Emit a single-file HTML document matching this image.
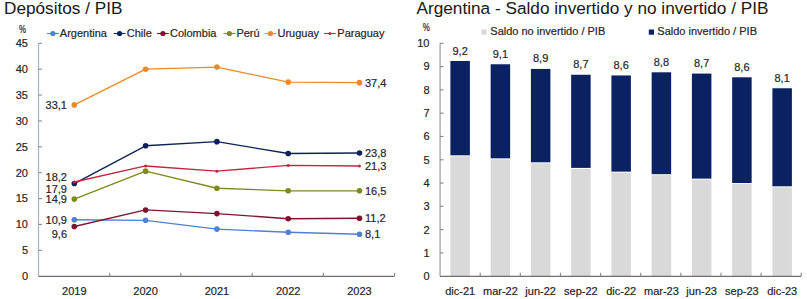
<!DOCTYPE html>
<html><head><meta charset="utf-8"><style>
html,body{margin:0;padding:0;background:#fff;width:807px;height:299px;overflow:hidden}
svg{display:block;font-family:"Liberation Sans", sans-serif}
</style></head><body>
<svg width="807" height="299" viewBox="0 0 807 299">
<rect width="807" height="299" fill="#fff"/>
<text x="4.00" y="13.70" font-size="17.2" text-anchor="start" fill="#1a1a1a" stroke="#1a1a1a" stroke-width="0.05" textLength="118.5" lengthAdjust="spacingAndGlyphs">Depósitos / PIB</text>
<line x1="38.50" y1="43.30" x2="38.50" y2="276.20" stroke="#aab0c2" stroke-width="1.2"/>
<text x="28.00" y="280.10" font-size="11" text-anchor="end" fill="#262626" stroke="#262626" stroke-width="0.2" >0</text>
<line x1="38.50" y1="250.32" x2="41.90" y2="250.32" stroke="#858a99" stroke-width="1.1"/>
<text x="28.00" y="254.22" font-size="11" text-anchor="end" fill="#262626" stroke="#262626" stroke-width="0.2" >5</text>
<line x1="38.50" y1="224.44" x2="41.90" y2="224.44" stroke="#858a99" stroke-width="1.1"/>
<text x="28.00" y="228.34" font-size="11" text-anchor="end" fill="#262626" stroke="#262626" stroke-width="0.2" >10</text>
<line x1="38.50" y1="198.57" x2="41.90" y2="198.57" stroke="#858a99" stroke-width="1.1"/>
<text x="28.00" y="202.47" font-size="11" text-anchor="end" fill="#262626" stroke="#262626" stroke-width="0.2" >15</text>
<line x1="38.50" y1="172.69" x2="41.90" y2="172.69" stroke="#858a99" stroke-width="1.1"/>
<text x="28.00" y="176.59" font-size="11" text-anchor="end" fill="#262626" stroke="#262626" stroke-width="0.2" >20</text>
<line x1="38.50" y1="146.81" x2="41.90" y2="146.81" stroke="#858a99" stroke-width="1.1"/>
<text x="28.00" y="150.71" font-size="11" text-anchor="end" fill="#262626" stroke="#262626" stroke-width="0.2" >25</text>
<line x1="38.50" y1="120.93" x2="41.90" y2="120.93" stroke="#858a99" stroke-width="1.1"/>
<text x="28.00" y="124.83" font-size="11" text-anchor="end" fill="#262626" stroke="#262626" stroke-width="0.2" >30</text>
<line x1="38.50" y1="95.06" x2="41.90" y2="95.06" stroke="#858a99" stroke-width="1.1"/>
<text x="28.00" y="98.96" font-size="11" text-anchor="end" fill="#262626" stroke="#262626" stroke-width="0.2" >35</text>
<line x1="38.50" y1="69.18" x2="41.90" y2="69.18" stroke="#858a99" stroke-width="1.1"/>
<text x="28.00" y="73.08" font-size="11" text-anchor="end" fill="#262626" stroke="#262626" stroke-width="0.2" >40</text>
<line x1="38.50" y1="43.30" x2="41.90" y2="43.30" stroke="#858a99" stroke-width="1.1"/>
<text x="28.00" y="47.20" font-size="11" text-anchor="end" fill="#262626" stroke="#262626" stroke-width="0.2" >45</text>
<text x="19.00" y="33.30" font-size="10" text-anchor="start" fill="#262626" stroke="#262626" stroke-width="0.2" textLength="7" lengthAdjust="spacingAndGlyphs">%</text>
<line x1="38.50" y1="276.40" x2="394.60" y2="276.40" stroke="#6e6e6e" stroke-width="1.3"/>
<line x1="109.72" y1="272.80" x2="109.72" y2="276.00" stroke="#8c8c8c" stroke-width="1.2"/>
<line x1="180.94" y1="272.80" x2="180.94" y2="276.00" stroke="#8c8c8c" stroke-width="1.2"/>
<line x1="252.16" y1="272.80" x2="252.16" y2="276.00" stroke="#8c8c8c" stroke-width="1.2"/>
<line x1="323.38" y1="272.80" x2="323.38" y2="276.00" stroke="#8c8c8c" stroke-width="1.2"/>
<line x1="394.60" y1="272.80" x2="394.60" y2="276.00" stroke="#8c8c8c" stroke-width="1.2"/>
<text x="74.30" y="295.00" font-size="11" text-anchor="middle" fill="#262626" stroke="#262626" stroke-width="0.2" >2019</text>
<text x="145.60" y="295.00" font-size="11" text-anchor="middle" fill="#262626" stroke="#262626" stroke-width="0.2" >2020</text>
<text x="216.90" y="295.00" font-size="11" text-anchor="middle" fill="#262626" stroke="#262626" stroke-width="0.2" >2021</text>
<text x="288.20" y="295.00" font-size="11" text-anchor="middle" fill="#262626" stroke="#262626" stroke-width="0.2" >2022</text>
<text x="359.50" y="295.00" font-size="11" text-anchor="middle" fill="#262626" stroke="#262626" stroke-width="0.2" >2023</text>
<polyline points="74.30,104.89 145.60,69.18 216.90,67.11 288.20,82.12 359.50,82.63" fill="none" stroke="#ec8a26" stroke-width="1.35" stroke-linejoin="round"/>
<circle cx="74.30" cy="104.89" r="2.8" fill="#ec8a26"/>
<circle cx="145.60" cy="69.18" r="2.8" fill="#ec8a26"/>
<circle cx="216.90" cy="67.11" r="2.8" fill="#ec8a26"/>
<circle cx="288.20" cy="82.12" r="2.8" fill="#ec8a26"/>
<circle cx="359.50" cy="82.63" r="2.8" fill="#ec8a26"/>
<polyline points="74.30,199.08 145.60,171.14 216.90,188.22 288.20,190.80 359.50,190.80" fill="none" stroke="#7d8a1c" stroke-width="1.35" stroke-linejoin="round"/>
<circle cx="74.30" cy="199.08" r="2.8" fill="#7d8a1c"/>
<circle cx="145.60" cy="171.14" r="2.8" fill="#7d8a1c"/>
<circle cx="216.90" cy="188.22" r="2.8" fill="#7d8a1c"/>
<circle cx="288.20" cy="190.80" r="2.8" fill="#7d8a1c"/>
<circle cx="359.50" cy="190.80" r="2.8" fill="#7d8a1c"/>
<polyline points="74.30,219.79 145.60,220.30 216.90,229.10 288.20,232.21 359.50,234.28" fill="none" stroke="#4f7fd6" stroke-width="1.35" stroke-linejoin="round"/>
<circle cx="74.30" cy="219.79" r="2.8" fill="#4f7fd6"/>
<circle cx="145.60" cy="220.30" r="2.8" fill="#4f7fd6"/>
<circle cx="216.90" cy="229.10" r="2.8" fill="#4f7fd6"/>
<circle cx="288.20" cy="232.21" r="2.8" fill="#4f7fd6"/>
<circle cx="359.50" cy="234.28" r="2.8" fill="#4f7fd6"/>
<polyline points="74.30,226.51 145.60,209.95 216.90,213.58 288.20,218.75 359.50,218.23" fill="none" stroke="#7f1430" stroke-width="1.35" stroke-linejoin="round"/>
<circle cx="74.30" cy="226.51" r="2.8" fill="#7f1430"/>
<circle cx="145.60" cy="209.95" r="2.8" fill="#7f1430"/>
<circle cx="216.90" cy="213.58" r="2.8" fill="#7f1430"/>
<circle cx="288.20" cy="218.75" r="2.8" fill="#7f1430"/>
<circle cx="359.50" cy="218.23" r="2.8" fill="#7f1430"/>
<polyline points="74.30,183.56 145.60,145.78 216.90,141.64 288.20,153.54 359.50,153.02" fill="none" stroke="#0e2258" stroke-width="1.35" stroke-linejoin="round"/>
<circle cx="74.30" cy="183.56" r="2.8" fill="#0e2258"/>
<circle cx="145.60" cy="145.78" r="2.8" fill="#0e2258"/>
<circle cx="216.90" cy="141.64" r="2.8" fill="#0e2258"/>
<circle cx="288.20" cy="153.54" r="2.8" fill="#0e2258"/>
<circle cx="359.50" cy="153.02" r="2.8" fill="#0e2258"/>
<polyline points="74.30,182.00 145.60,165.96 216.90,171.14 288.20,165.44 359.50,165.96" fill="none" stroke="#c2263e" stroke-width="1.35" stroke-linejoin="round"/>
<circle cx="74.30" cy="182.00" r="1.5" fill="#c2263e"/>
<circle cx="145.60" cy="165.96" r="1.5" fill="#c2263e"/>
<circle cx="216.90" cy="171.14" r="1.5" fill="#c2263e"/>
<circle cx="288.20" cy="165.44" r="1.5" fill="#c2263e"/>
<circle cx="359.50" cy="165.96" r="1.5" fill="#c2263e"/>
<line x1="47.00" y1="33.50" x2="58.80" y2="33.50" stroke="#4f7fd6" stroke-width="1.1"/>
<circle cx="52.90" cy="33.50" r="2.6" fill="#4f7fd6"/>
<text x="59.80" y="37.00" font-size="11" text-anchor="start" fill="#262626" stroke="#262626" stroke-width="0.2" >Argentina</text>
<line x1="113.70" y1="33.50" x2="125.50" y2="33.50" stroke="#0e2258" stroke-width="1.1"/>
<circle cx="119.60" cy="33.50" r="2.6" fill="#0e2258"/>
<text x="126.80" y="37.00" font-size="11" text-anchor="start" fill="#262626" stroke="#262626" stroke-width="0.2" >Chile</text>
<line x1="157.00" y1="33.50" x2="168.80" y2="33.50" stroke="#7f1430" stroke-width="1.1"/>
<circle cx="162.90" cy="33.50" r="2.6" fill="#7f1430"/>
<text x="170.00" y="37.00" font-size="11" text-anchor="start" fill="#262626" stroke="#262626" stroke-width="0.2" >Colombia</text>
<line x1="223.50" y1="33.50" x2="235.30" y2="33.50" stroke="#7d8a1c" stroke-width="1.1"/>
<circle cx="229.40" cy="33.50" r="2.6" fill="#7d8a1c"/>
<text x="236.40" y="37.00" font-size="11" text-anchor="start" fill="#262626" stroke="#262626" stroke-width="0.2" >Perú</text>
<line x1="264.60" y1="33.50" x2="276.40" y2="33.50" stroke="#ec8a26" stroke-width="1.1"/>
<circle cx="270.50" cy="33.50" r="2.6" fill="#ec8a26"/>
<text x="277.50" y="37.00" font-size="11" text-anchor="start" fill="#262626" stroke="#262626" stroke-width="0.2" >Uruguay</text>
<line x1="324.00" y1="33.50" x2="335.80" y2="33.50" stroke="#c2263e" stroke-width="1.1"/>
<circle cx="329.90" cy="33.50" r="1.5" fill="#c2263e"/>
<text x="337.30" y="37.00" font-size="11" text-anchor="start" fill="#262626" stroke="#262626" stroke-width="0.2" >Paraguay</text>
<text x="67.00" y="108.80" font-size="11" text-anchor="end" fill="#262626" stroke="#262626" stroke-width="0.2" >33,1</text>
<text x="67.00" y="180.60" font-size="11" text-anchor="end" fill="#262626" stroke="#262626" stroke-width="0.2" >18,2</text>
<text x="67.00" y="193.20" font-size="11" text-anchor="end" fill="#262626" stroke="#262626" stroke-width="0.2" >17,9</text>
<text x="67.00" y="202.60" font-size="11" text-anchor="end" fill="#262626" stroke="#262626" stroke-width="0.2" >14,9</text>
<text x="67.00" y="224.40" font-size="11" text-anchor="end" fill="#262626" stroke="#262626" stroke-width="0.2" >10,9</text>
<text x="67.00" y="237.60" font-size="11" text-anchor="end" fill="#262626" stroke="#262626" stroke-width="0.2" >9,6</text>
<text x="365.00" y="86.53" font-size="11" text-anchor="start" fill="#262626" stroke="#262626" stroke-width="0.2" >37,4</text>
<text x="365.00" y="156.92" font-size="11" text-anchor="start" fill="#262626" stroke="#262626" stroke-width="0.2" >23,8</text>
<text x="365.00" y="169.86" font-size="11" text-anchor="start" fill="#262626" stroke="#262626" stroke-width="0.2" >21,3</text>
<text x="365.00" y="194.70" font-size="11" text-anchor="start" fill="#262626" stroke="#262626" stroke-width="0.2" >16,5</text>
<text x="365.00" y="222.13" font-size="11" text-anchor="start" fill="#262626" stroke="#262626" stroke-width="0.2" >11,2</text>
<text x="365.00" y="238.18" font-size="11" text-anchor="start" fill="#262626" stroke="#262626" stroke-width="0.2" >8,1</text>
<text x="416.50" y="13.70" font-size="17.2" text-anchor="start" fill="#1a1a1a" stroke="#1a1a1a" stroke-width="0.05" textLength="352" lengthAdjust="spacingAndGlyphs">Argentina - Saldo invertido y no invertido / PIB</text>
<line x1="440.10" y1="43.30" x2="440.10" y2="276.20" stroke="#a8a8a8" stroke-width="1.4"/>
<text x="429.50" y="280.10" font-size="11" text-anchor="end" fill="#262626" stroke="#262626" stroke-width="0.2" >0</text>
<line x1="440.10" y1="252.91" x2="443.50" y2="252.91" stroke="#858585" stroke-width="1.1"/>
<text x="429.50" y="256.81" font-size="11" text-anchor="end" fill="#262626" stroke="#262626" stroke-width="0.2" >1</text>
<line x1="440.10" y1="229.62" x2="443.50" y2="229.62" stroke="#858585" stroke-width="1.1"/>
<text x="429.50" y="233.52" font-size="11" text-anchor="end" fill="#262626" stroke="#262626" stroke-width="0.2" >2</text>
<line x1="440.10" y1="206.33" x2="443.50" y2="206.33" stroke="#858585" stroke-width="1.1"/>
<text x="429.50" y="210.23" font-size="11" text-anchor="end" fill="#262626" stroke="#262626" stroke-width="0.2" >3</text>
<line x1="440.10" y1="183.04" x2="443.50" y2="183.04" stroke="#858585" stroke-width="1.1"/>
<text x="429.50" y="186.94" font-size="11" text-anchor="end" fill="#262626" stroke="#262626" stroke-width="0.2" >4</text>
<line x1="440.10" y1="159.75" x2="443.50" y2="159.75" stroke="#858585" stroke-width="1.1"/>
<text x="429.50" y="163.65" font-size="11" text-anchor="end" fill="#262626" stroke="#262626" stroke-width="0.2" >5</text>
<line x1="440.10" y1="136.46" x2="443.50" y2="136.46" stroke="#858585" stroke-width="1.1"/>
<text x="429.50" y="140.36" font-size="11" text-anchor="end" fill="#262626" stroke="#262626" stroke-width="0.2" >6</text>
<line x1="440.10" y1="113.17" x2="443.50" y2="113.17" stroke="#858585" stroke-width="1.1"/>
<text x="429.50" y="117.07" font-size="11" text-anchor="end" fill="#262626" stroke="#262626" stroke-width="0.2" >7</text>
<line x1="440.10" y1="89.88" x2="443.50" y2="89.88" stroke="#858585" stroke-width="1.1"/>
<text x="429.50" y="93.78" font-size="11" text-anchor="end" fill="#262626" stroke="#262626" stroke-width="0.2" >8</text>
<line x1="440.10" y1="66.59" x2="443.50" y2="66.59" stroke="#858585" stroke-width="1.1"/>
<text x="429.50" y="70.49" font-size="11" text-anchor="end" fill="#262626" stroke="#262626" stroke-width="0.2" >9</text>
<line x1="440.10" y1="43.30" x2="443.50" y2="43.30" stroke="#858585" stroke-width="1.1"/>
<text x="429.50" y="47.20" font-size="11" text-anchor="end" fill="#262626" stroke="#262626" stroke-width="0.2" >10</text>
<text x="422.80" y="30.70" font-size="10" text-anchor="start" fill="#262626" stroke="#262626" stroke-width="0.2" textLength="7" lengthAdjust="spacingAndGlyphs">%</text>
<rect x="450.40" y="61.00" width="19.50" height="94.32" fill="#0b2262"/>
<rect x="450.40" y="156.32" width="19.50" height="119.88" fill="#d9d9d9"/>
<text x="460.15" y="54.50" font-size="11" text-anchor="middle" fill="#262626" stroke="#262626" stroke-width="0.2" >9,2</text>
<text x="460.15" y="294.80" font-size="11" text-anchor="middle" fill="#262626" stroke="#262626" stroke-width="0.2" >dic-21</text>
<rect x="490.65" y="64.26" width="19.50" height="94.09" fill="#0b2262"/>
<rect x="490.65" y="159.35" width="19.50" height="116.85" fill="#d9d9d9"/>
<text x="500.40" y="57.76" font-size="11" text-anchor="middle" fill="#262626" stroke="#262626" stroke-width="0.2" >9,1</text>
<text x="500.40" y="294.80" font-size="11" text-anchor="middle" fill="#262626" stroke="#262626" stroke-width="0.2" >mar-22</text>
<rect x="530.90" y="68.92" width="19.50" height="93.39" fill="#0b2262"/>
<rect x="530.90" y="163.31" width="19.50" height="112.89" fill="#d9d9d9"/>
<text x="540.65" y="62.42" font-size="11" text-anchor="middle" fill="#262626" stroke="#262626" stroke-width="0.2" >8,9</text>
<text x="540.65" y="294.80" font-size="11" text-anchor="middle" fill="#262626" stroke="#262626" stroke-width="0.2" >jun-22</text>
<rect x="571.15" y="74.74" width="19.50" height="93.16" fill="#0b2262"/>
<rect x="571.15" y="168.90" width="19.50" height="107.30" fill="#d9d9d9"/>
<text x="580.90" y="68.24" font-size="11" text-anchor="middle" fill="#262626" stroke="#262626" stroke-width="0.2" >8,7</text>
<text x="580.90" y="294.80" font-size="11" text-anchor="middle" fill="#262626" stroke="#262626" stroke-width="0.2" >sep-22</text>
<rect x="611.40" y="75.44" width="19.50" height="96.19" fill="#0b2262"/>
<rect x="611.40" y="172.63" width="19.50" height="103.57" fill="#d9d9d9"/>
<text x="621.15" y="68.94" font-size="11" text-anchor="middle" fill="#262626" stroke="#262626" stroke-width="0.2" >8,6</text>
<text x="621.15" y="294.80" font-size="11" text-anchor="middle" fill="#262626" stroke="#262626" stroke-width="0.2" >dic-22</text>
<rect x="651.65" y="72.30" width="19.50" height="101.89" fill="#0b2262"/>
<rect x="651.65" y="175.19" width="19.50" height="101.01" fill="#d9d9d9"/>
<text x="661.40" y="65.80" font-size="11" text-anchor="middle" fill="#262626" stroke="#262626" stroke-width="0.2" >8,8</text>
<text x="661.40" y="294.80" font-size="11" text-anchor="middle" fill="#262626" stroke="#262626" stroke-width="0.2" >mar-23</text>
<rect x="691.90" y="73.58" width="19.50" height="105.04" fill="#0b2262"/>
<rect x="691.90" y="179.61" width="19.50" height="96.59" fill="#d9d9d9"/>
<text x="701.65" y="67.08" font-size="11" text-anchor="middle" fill="#262626" stroke="#262626" stroke-width="0.2" >8,7</text>
<text x="701.65" y="294.80" font-size="11" text-anchor="middle" fill="#262626" stroke="#262626" stroke-width="0.2" >jun-23</text>
<rect x="732.15" y="77.30" width="19.50" height="105.74" fill="#0b2262"/>
<rect x="732.15" y="184.04" width="19.50" height="92.16" fill="#d9d9d9"/>
<text x="741.90" y="70.80" font-size="11" text-anchor="middle" fill="#262626" stroke="#262626" stroke-width="0.2" >8,6</text>
<text x="741.90" y="294.80" font-size="11" text-anchor="middle" fill="#262626" stroke="#262626" stroke-width="0.2" >sep-23</text>
<rect x="772.40" y="88.25" width="19.50" height="98.05" fill="#0b2262"/>
<rect x="772.40" y="187.30" width="19.50" height="88.90" fill="#d9d9d9"/>
<text x="782.15" y="81.75" font-size="11" text-anchor="middle" fill="#262626" stroke="#262626" stroke-width="0.2" >8,1</text>
<text x="782.15" y="294.80" font-size="11" text-anchor="middle" fill="#262626" stroke="#262626" stroke-width="0.2" >dic-23</text>
<line x1="440.10" y1="276.40" x2="801.20" y2="276.40" stroke="#6e6e6e" stroke-width="1.3"/>
<line x1="480.22" y1="272.80" x2="480.22" y2="276.00" stroke="#8c8c8c" stroke-width="1.2"/>
<line x1="520.34" y1="272.80" x2="520.34" y2="276.00" stroke="#8c8c8c" stroke-width="1.2"/>
<line x1="560.47" y1="272.80" x2="560.47" y2="276.00" stroke="#8c8c8c" stroke-width="1.2"/>
<line x1="600.59" y1="272.80" x2="600.59" y2="276.00" stroke="#8c8c8c" stroke-width="1.2"/>
<line x1="640.71" y1="272.80" x2="640.71" y2="276.00" stroke="#8c8c8c" stroke-width="1.2"/>
<line x1="680.83" y1="272.80" x2="680.83" y2="276.00" stroke="#8c8c8c" stroke-width="1.2"/>
<line x1="720.96" y1="272.80" x2="720.96" y2="276.00" stroke="#8c8c8c" stroke-width="1.2"/>
<line x1="761.08" y1="272.80" x2="761.08" y2="276.00" stroke="#8c8c8c" stroke-width="1.2"/>
<line x1="801.20" y1="272.80" x2="801.20" y2="276.00" stroke="#8c8c8c" stroke-width="1.2"/>
<rect x="481.50" y="29.50" width="5.20" height="5.20" fill="#d9d9d9"/>
<text x="490.30" y="34.90" font-size="11" text-anchor="start" fill="#262626" stroke="#262626" stroke-width="0.2" >Saldo no invertido / PIB</text>
<rect x="648.80" y="29.50" width="5.20" height="5.20" fill="#0b2262"/>
<text x="657.30" y="34.90" font-size="11" text-anchor="start" fill="#262626" stroke="#262626" stroke-width="0.2" >Saldo invertido / PIB</text>
</svg></body></html>
